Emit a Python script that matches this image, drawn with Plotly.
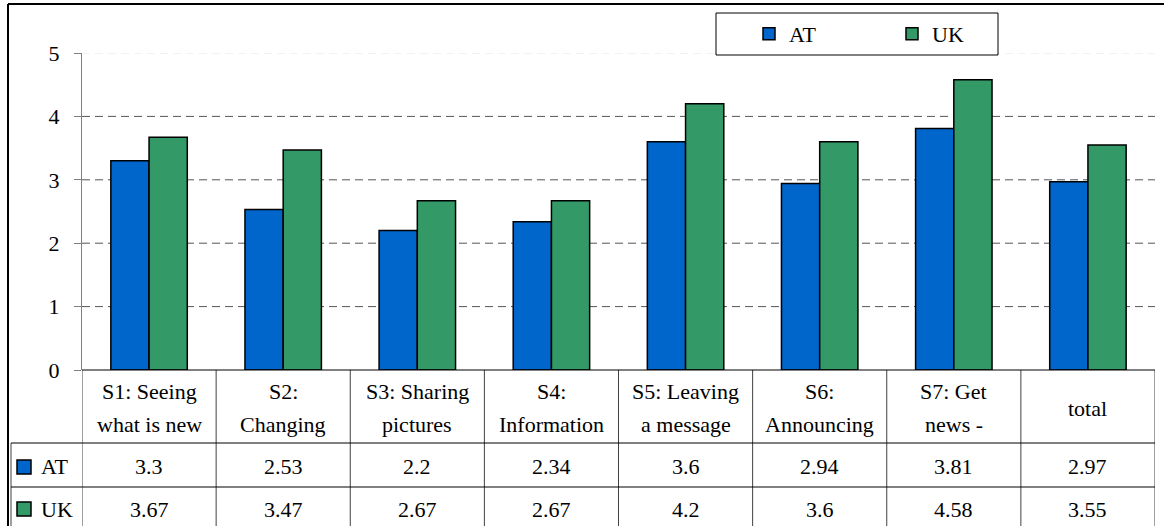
import plotly.graph_objects as go

# chart data
categories = ['S1: Seeing<br>what is new', 'S2:<br>Changing', 'S3: Sharing<br>pictures',
              'S4:<br>Information', 'S5: Leaving<br>a message', 'S6:<br>Announcing',
              'S7: Get<br>news -', 'total']
at_values = [3.3, 2.53, 2.2, 2.34, 3.6, 2.94, 3.81, 2.97]
uk_values = [3.67, 3.47, 2.67, 2.67, 4.2, 3.6, 4.58, 3.55]
y_ticks = [0, 1, 2, 3, 4, 5]

series = [('AT', at_values, '#0066CC'), ('UK', uk_values, '#339966')]

FONT = '"Times New Roman", "Liberation Serif", "DejaVu Serif", serif'
FS = 22

# plot area in pixels: left 82, right 1155, top 53, bottom 370
L, R, T, B = 82, 1155, 53, 370
W, H = 1164, 526


def px_x(xp):
    return (xp - L) / (R - L)


def px_y(yp):
    return (B - yp) / (B - T)


fig = go.Figure()
for name, vals, col in series:
    fig.add_trace(go.Bar(
        x=list(range(len(categories))), y=vals, name=name,
        marker=dict(color=col, line=dict(color='black', width=1.5)),
    ))

shapes = []
# grid lines
for t in y_ticks[1:]:
    shapes.append(dict(type='line', xref='paper', yref='y', x0=0, x1=1, y0=t, y1=t,
                       line=dict(color='#e6e6e6' if t == 5 else '#555555', width=1, dash='8px,5px'),
                       layer='below'))

# outer chart border (left and top)
shapes.append(dict(type='line', xref='paper', yref='paper', x0=px_x(8), x1=px_x(8),
                   y0=px_y(4), y1=px_y(540), line=dict(color='black', width=2)))
shapes.append(dict(type='line', xref='paper', yref='paper', x0=px_x(8), x1=px_x(1170),
                   y0=px_y(4), y1=px_y(4), line=dict(color='black', width=2)))

# data table grid
n = len(categories)
for i in range(n + 1):
    shapes.append(dict(type='line', xref='x', yref='paper', x0=i - 0.5, x1=i - 0.5,
                       y0=px_y(B), y1=px_y(540), line=dict(color='#404040', width=1)))
shapes.append(dict(type='line', xref='paper', yref='paper', x0=px_x(11), x1=px_x(11),
                   y0=px_y(443), y1=px_y(540), line=dict(color='#404040', width=1)))
shapes.append(dict(type='line', xref='x', yref='paper', x0=-0.5, x1=n - 0.5,
                   y0=px_y(B), y1=px_y(B), line=dict(color='black', width=1)))
for yp in (443, 487):
    shapes.append(dict(type='line', xref='paper', yref='paper', x0=px_x(11), x1=1,
                       y0=px_y(yp), y1=px_y(yp), line=dict(color='black', width=1)))

# legend box
shapes.append(dict(type='rect', xref='paper', yref='paper', x0=px_x(716), x1=px_x(998),
                   y0=px_y(13), y1=px_y(55), line=dict(color='black', width=1),
                   fillcolor='white', layer='below'))

annotations = []
# category row
for i, cat in enumerate(categories):
    parts = cat.split('<br>')
    centers = [408] if len(parts) == 1 else [391, 424]
    for txt, yc in zip(parts, centers):
        annotations.append(dict(x=i, y=px_y(yc), xref='x', yref='paper', text=txt,
                                showarrow=False, yanchor='middle', xanchor='center',
                                font=dict(family=FONT, size=FS, color='black')))

# value rows
row_centers = [467, 509]
for (name, vals, col), yc in zip(series, row_centers):
    shapes.append(dict(type='rect', xref='paper', yref='paper', x0=px_x(17), x1=px_x(31),
                       y0=px_y(yc - 7), y1=px_y(yc + 7), fillcolor=col,
                       line=dict(color='black', width=1.5)))
    annotations.append(dict(x=px_x(39), y=px_y(yc), xref='paper', yref='paper', text=name,
                            showarrow=False, xanchor='left', yanchor='middle',
                            font=dict(family=FONT, size=FS, color='black')))
    for i, v in enumerate(vals):
        annotations.append(dict(x=i, y=px_y(yc), xref='x', yref='paper', text=f'{v:g}',
                                showarrow=False, xanchor='center', yanchor='middle',
                                font=dict(family=FONT, size=FS, color='black')))

fig.update_layout(
    width=W, height=H,
    margin=dict(l=L, r=W - R, t=T, b=H - B, pad=0),
    paper_bgcolor='white', plot_bgcolor='white',
    barmode='group', bargap=0.43, bargroupgap=0,
    font=dict(family=FONT, size=FS, color='black'),
    showlegend=True,
    legend=dict(orientation='h', x=px_x(749), y=px_y(34), xanchor='left', yanchor='middle',
                bgcolor='rgba(0,0,0,0)', borderwidth=0, entrywidth=98,
                entrywidthmode='pixels', itemwidth=30,
                font=dict(family=FONT, size=FS, color='black')),
    shapes=shapes, annotations=annotations,
)
fig.update_xaxes(range=[-0.5, n - 0.5], showticklabels=False, showgrid=False,
                 zeroline=False, showline=False, ticks='')
fig.update_yaxes(range=[0, 5], tickvals=y_ticks, showgrid=False, zeroline=False,
                 showline=True, linecolor='#808080', linewidth=1,
                 ticks='outside', ticklen=7, tickcolor='#808080',
                 ticklabelstandoff=10, tickfont=dict(family=FONT, size=FS, color='black'))

# the page's default body margin would shift the figure by 8px
fig.write_html('out.html', config={'displayModeBar': False},
               post_script="document.body.style.margin='0';")
